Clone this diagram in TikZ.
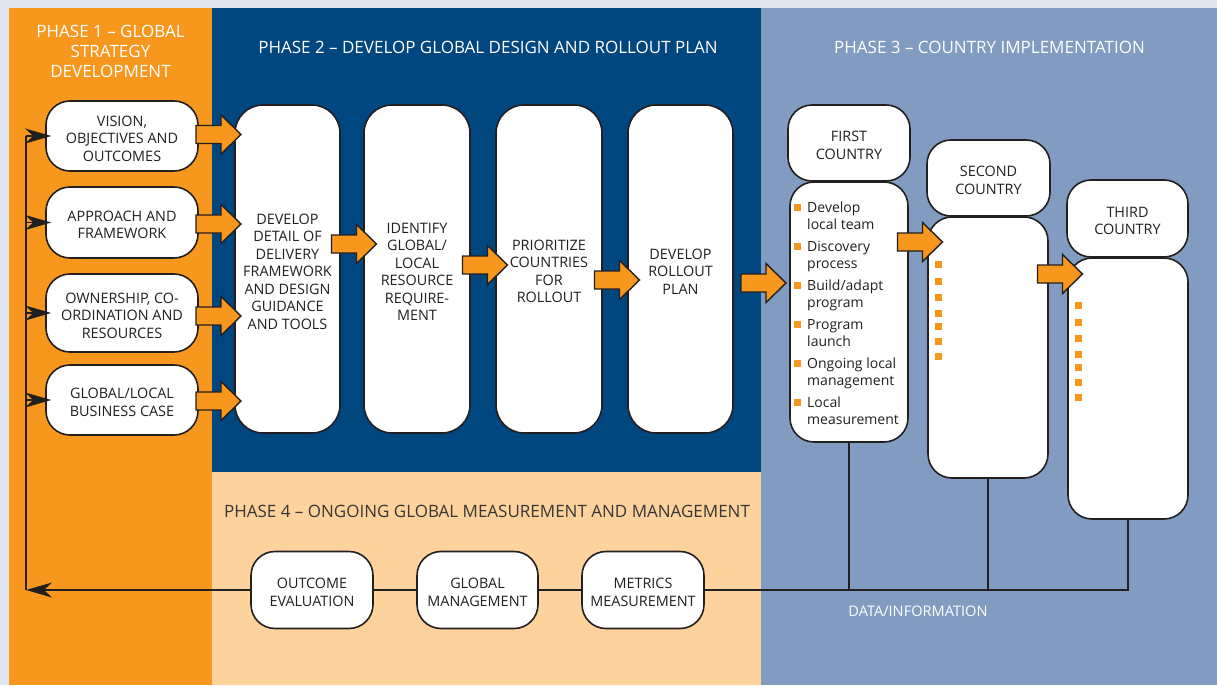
\documentclass[tikz,border=0pt]{standalone}
\usepackage{fontspec}
\setmainfont{Open Sans}
\usetikzlibrary{arrows.meta,calc}

\definecolor{pageback}{HTML}{E1E6F0}
\definecolor{phaseorange}{HTML}{F7971D}
\definecolor{phaseblue}{HTML}{00467F}
\definecolor{phasepeach}{HTML}{FDD29D}
\definecolor{phasesteel}{HTML}{819BC1}
\definecolor{inkdark}{HTML}{231F20}

\pgfdeclarelayer{panels}
\pgfdeclarelayer{wires}
\pgfsetlayers{panels,wires,main}

% broad orange block arrow centred in the gap between two nodes, at height #3
\newcommand\fatarrow[3]{%
  \coordinate (fa) at ($(#1.east)!0.5!(#2.west)+(2,0)$);
  \coordinate (fy) at (fa |- 0,#3);
  \draw[fatarrow] ([shift={(-22.5,-9)}]fy) -- ++(25,0) -- ++(0,-10.5)
    -- ++(20,19.5) -- ++(-20,19.5) -- ++(0,-10.5) -- ++(-25,0) -- cycle;
}
\newcommand\sqbul{\textcolor{phaseorange}{\raisebox{1.5pt}{\rule{7pt}{7pt}}}}
% invisible strut that lowers box captions a little
\newcommand\cs{\rule{0pt}{15.5pt}}

\begin{document}
\begin{tikzpicture}[x=1pt,y=-1pt,
  box/.style={draw=inkdark, line width=1.6pt, fill=white, rounded corners=24pt,
    align=center, text=inkdark, inner sep=2pt,
    font=\fontsize{14.4}{17.5}\selectfont},
  tallbox/.style={box, rounded corners=28pt, minimum width=105pt, minimum height=328pt},
  sidebox/.style={box, minimum width=152pt},
  headbox/.style={box, minimum height=76pt},
  bodybox/.style={box, minimum height=261pt},
  footbox/.style={box, minimum height=77pt},
  title/.style={text=white, align=center, font=\fontsize{17}{20}\selectfont},
  wire/.style={draw=inkdark, line width=1.5pt},
  tip/.style={-{Stealth[length=26pt,width=15pt,inset=8pt]}},
  fatarrow/.style={fill=phaseorange, draw=inkdark, line width=1.4pt, line join=miter},
  bullet/.style={fill=phaseorange}]

% panels
\begin{pgfonlayer}{panels}
\fill[pageback] (0,0) rectangle (1217,685);
\fill[phaseorange] (9,8) rectangle (212,685);
\fill[phaseblue] (212,8) rectangle (761,472);
\fill[phasepeach] (212,472) rectangle (761,685);
\fill[phasesteel] (761,8) rectangle (1217,685);
\end{pgfonlayer}
\useasboundingbox (0,0) rectangle (1217,685);

% phase titles
\node[title] (t1) at (110.5,51) {PHASE 1 – GLOBAL\\STRATEGY\\DEVELOPMENT};
\node[title] (t2) at (488,47) {PHASE 2 – DEVELOP GLOBAL DESIGN AND ROLLOUT PLAN};
\node[title] (t3) at (989.5,47) {PHASE 3 – COUNTRY IMPLEMENTATION};
\node[title, text=inkdark!90] (t4) at (487,511) {PHASE 4 – ONGOING GLOBAL MEASUREMENT AND MANAGEMENT};

% phase 1 boxes
\node[sidebox, minimum height=70pt] (v1) at (122,136) {\cs VISION,\\OBJECTIVES AND\\OUTCOMES};
\node[sidebox, minimum height=71pt] (v2) at (122,222.5) {\cs APPROACH AND\\FRAMEWORK};
\node[sidebox, minimum height=78pt] (v3) at (122,313) {\cs OWNERSHIP, CO-\\ORDINATION AND\\RESOURCES};
\node[sidebox, minimum height=70pt] (v4) at (122,400) {\cs GLOBAL/LOCAL\\BUSINESS CASE};

% phase 2 boxes
\node[tallbox] (p1) at (287.5,269) {\cs DEVELOP\\DETAIL OF\\DELIVERY\\FRAMEWORK\\AND DESIGN\\GUIDANCE\\AND TOOLS};
\node[tallbox, minimum width=106pt] (p2) at (417,269) {\cs IDENTIFY\\GLOBAL/\\LOCAL\\RESOURCE\\REQUIRE-\\MENT};
\node[tallbox, minimum width=106pt] (p3) at (549,269) {\cs PRIORITIZE\\COUNTRIES\\FOR\\ROLLOUT};
\node[tallbox] (p4) at (680.5,269) {\cs DEVELOP\\ROLLOUT\\PLAN};

% phase 3 boxes
\node[bodybox, minimum width=118pt, minimum height=260pt] (b1) at (849,312) {};
\node[bodybox, minimum width=120pt] (b2) at (988,347.5) {};
\node[bodybox, minimum width=120pt] (b3) at (1128,388.5) {};
\node[headbox, minimum width=122pt] (h1) at (849,143) {\cs FIRST\\COUNTRY};
\node[headbox, minimum width=123pt] (h2) at (988.5,178) {\cs SECOND\\COUNTRY};
\node[headbox, minimum width=121pt, minimum height=77pt] (h3) at (1127.5,218.5) {\cs THIRD\\COUNTRY};

% phase 4 boxes
\node[footbox, minimum width=122pt] (oe) at (312,590) {\cs OUTCOME\\EVALUATION};
\node[footbox, minimum width=121pt] (gm) at (477.5,590) {\cs GLOBAL\\MANAGEMENT};
\node[footbox, minimum width=122pt] (mm) at (643,590) {\cs METRICS\\MEASUREMENT};

\node[text=white, font=\fontsize{14.6}{16}\selectfont] (data) at (918,611) {DATA/INFORMATION};

% data/information feedback bus, behind the boxes
\coordinate (busL) at (26,590);
\begin{pgfonlayer}{wires}
\draw[wire] (b3.south) |- (mm.east);
\draw[wire] (b1.south) -- (b1.south |- mm.east);
\draw[wire] (b2.south) -- (b2.south |- mm.east);
\draw[wire] (mm.west) -- (gm.east);
\draw[wire] (gm.west) -- (oe.east);
\draw[wire, tip] (oe.west) -- (busL);
\draw[wire] (busL) -- (busL |- v1.west);
\end{pgfonlayer}
\foreach \n in {v1,v2,v3,v4}
  \draw[wire, tip, shorten >=-6pt] (busL |- \n.west) -- (\n.west);

% first country activity list
\node[anchor=north west, inner sep=0pt, text=inkdark, align=left,
      font=\fontsize{14}{17}\selectfont] (list) at (794,200) {%
  \begin{tabular}{@{}l@{\hspace{6pt}}l@{}}
  \sqbul & Develop\\ & local team\\[5pt]
  \sqbul & Discovery\\ & process\\[5pt]
  \sqbul & Build/adapt\\ & program\\[5pt]
  \sqbul & Program\\ & launch\\[5pt]
  \sqbul & Ongoing local\\ & management\\[5pt]
  \sqbul & Local\\ & measurement
  \end{tabular}};

% empty activity slots for later countries
\foreach \b in {b2,b3}
  \foreach \dy in {48,65,81,97,110,125,140}
    \fill[bullet] ([shift={(7.5,\dy-3.5)}]\b.north west) rectangle +(7,7);

% block arrows
\fatarrow{v1}{p1}{134.5}
\fatarrow{v2}{p1}{224}
\fatarrow{v3}{p1}{316}
\fatarrow{v4}{p1}{401}
\fatarrow{p1}{p2}{244}
\fatarrow{p2}{p3}{265}
\fatarrow{p3}{p4}{280}
\fatarrow{p4}{b1}{283}
\fatarrow{b1}{b2}{242}
\fatarrow{b2}{b3}{274}
\end{tikzpicture}
\end{document}
